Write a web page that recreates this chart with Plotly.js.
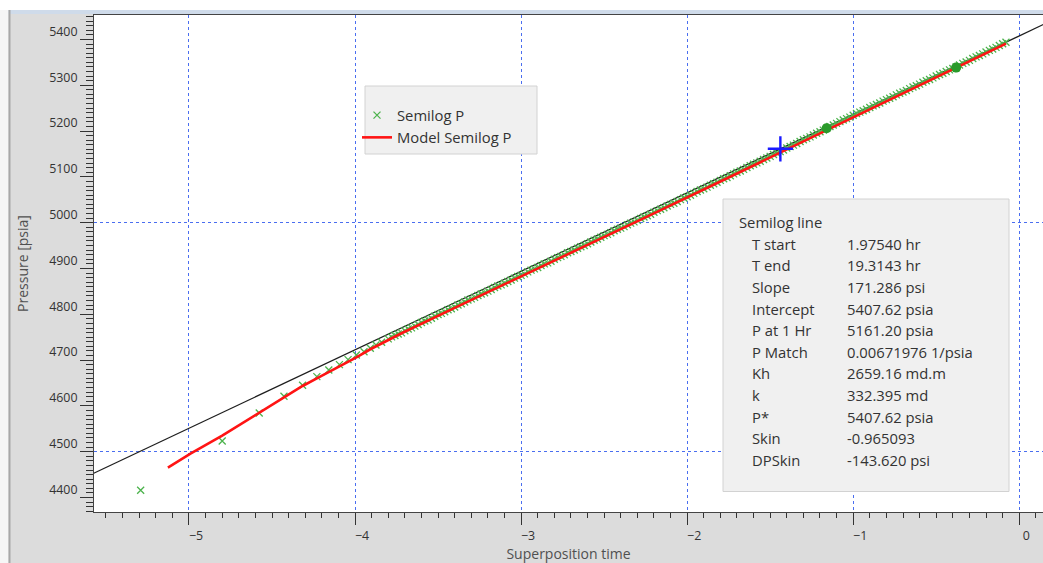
<!DOCTYPE html>
<html>
<head>
<meta charset="utf-8">
<script src="https://cdn.plot.ly/plotly-3.0.1.min.js"></script>
<style>
  html, body { margin: 0; padding: 0; background: #ffffff; }
  #chart { width: 1043px; height: 563px; }
</style>
</head>
<body>
<div id="chart"></div>
<script>
// ---------------- data ----------------
const semilogX = [-5.291, -4.800, -4.577, -4.428, -4.316, -4.230, -4.158, -4.094, -4.042, -3.992, -3.946, -3.908, -3.874, -3.840,
  -3.80, -3.76, -3.72, -3.68, -3.64, -3.60, -3.56, -3.52, -3.48, -3.44, -3.40, -3.36, -3.32, -3.28, -3.24, -3.20,
  -3.16, -3.12, -3.08, -3.04, -3.00, -2.96, -2.92, -2.88, -2.84, -2.80, -2.76, -2.72, -2.68, -2.64, -2.60, -2.56,
  -2.52, -2.48, -2.44, -2.40, -2.36, -2.32, -2.28, -2.24, -2.20, -2.16, -2.12, -2.08, -2.04, -2.00, -1.96, -1.92,
  -1.88, -1.84, -1.80, -1.76, -1.72, -1.68, -1.64, -1.60, -1.56, -1.52, -1.48, -1.44, -1.40, -1.36, -1.32, -1.28,
  -1.24, -1.20, -1.16, -1.12, -1.08, -1.04, -1.00, -0.96, -0.92, -0.88, -0.84, -0.80, -0.76, -0.72, -0.68, -0.64,
  -0.60, -0.56, -0.52, -0.48, -0.44, -0.40, -0.36, -0.32, -0.28, -0.24, -0.20, -0.16, -0.12, -0.08,
  -3.78, -3.74, -3.70, -3.66, -3.62, -3.58, -3.54, -3.50, -3.46, -3.42, -3.38, -3.34, -3.30, -3.26, -3.22, -3.18,
  -3.14, -3.10, -3.06, -3.02, -2.98, -2.94, -2.90, -2.86, -2.82, -2.78, -2.74, -2.70, -2.66, -2.62, -2.58, -2.54,
  -2.50, -2.46, -2.42, -2.38, -2.34, -2.30, -2.26, -2.22, -2.18, -2.14, -2.10, -2.06, -2.02, -1.98, -1.94, -1.90,
  -1.86, -1.82, -1.78, -1.74, -1.70, -1.66, -1.62, -1.58, -1.54, -1.50, -1.46, -1.42, -1.38, -1.34, -1.30, -1.26,
  -1.22, -1.18, -1.14, -1.10, -1.06, -1.02, -0.98, -0.94, -0.90, -0.86, -0.82, -0.78, -0.74, -0.70, -0.66, -0.62,
  -0.58, -0.54, -0.50, -0.46, -0.42, -0.38, -0.34, -0.30, -0.26, -0.22, -0.18, -0.14, -0.10];
const semilogP = [4415.7, 4523.4, 4584.5, 4621.0, 4645.0, 4663.8, 4678.4, 4690.0, 4700.9, 4711.0, 4718.0, 4725.8, 4733.0, 4739.0,
  4746.2, 4753.6, 4759.4, 4767.8, 4774.1, 4782.0, 4787.8, 4795.7, 4802.0, 4809.9, 4815.8, 4823.1, 4831.0, 4836.8, 4844.2, 4850.5,
  4858.4, 4864.2, 4871.6, 4878.9, 4884.8, 4892.6, 4899.0, 4906.3, 4912.2, 4920.0, 4926.4, 4934.2, 4940.1, 4947.4, 4953.8, 4961.6,
  4968.0, 4974.3, 4982.2, 4988.0, 4995.4, 5001.7, 5009.1, 5014.9, 5022.8, 5029.1, 5036.5, 5042.4, 5050.2, 5056.6, 5063.9, 5071.3,
  5077.6, 5085.0, 5092.3, 5098.7, 5106.5, 5112.9, 5120.2, 5127.6, 5133.9, 5141.3, 5148.6, 5155.0, 5162.8, 5169.2, 5177.0, 5183.9,
  5191.2, 5198.6, 5205.9, 5213.3, 5220.6, 5227.0, 5234.3, 5241.2, 5247.5, 5254.9, 5261.2, 5268.6, 5274.9, 5282.3, 5288.6, 5296.0,
  5302.4, 5309.7, 5316.0, 5323.4, 5329.8, 5336.6, 5344.0, 5350.8, 5358.2, 5365.0, 5372.4, 5379.2, 5386.6, 5393.9,
  4750.6, 4757.0, 4763.9, 4770.3, 4777.6, 4785.3, 4791.2, 4799.4, 4805.6, 4812.1, 4820.2, 4826.7, 4833.5, 4841.0, 4846.9, 4854.0,
  4861.8, 4867.5, 4874.8, 4882.3, 4888.2, 4896.3, 4902.2, 4909.9, 4915.6, 4923.7, 4929.8, 4936.9, 4944.2, 4950.1, 4957.9, 4964.3,
  4971.6, 4978.0, 4985.4, 4991.3, 4998.9, 5005.0, 5012.4, 5018.5, 5026.3, 5032.4, 5039.9, 5046.0, 5053.8, 5059.9, 5067.9, 5074.1,
  5081.7, 5088.3, 5095.9, 5102.2, 5110.0, 5116.2, 5124.3, 5130.4, 5137.9, 5144.6, 5152.1, 5158.6, 5166.3, 5172.8, 5180.8, 5187.3,
  5195.2, 5202.0, 5209.9, 5216.7, 5224.1, 5230.4, 5238.1, 5244.1, 5251.5, 5257.8, 5265.2, 5271.5, 5278.9, 5285.2, 5292.6, 5298.9,
  5306.4, 5312.6, 5320.0, 5326.3, 5333.5, 5340.0, 5347.7, 5354.2, 5361.9, 5368.4, 5376.1, 5382.6, 5390.6];

const modelX = [-5.127, -4.991, -4.800, -4.577, -4.428, -4.316, -4.230, -4.094, -3.992, -3.908, -3.720, -3.400, -3.000,
  -2.600, -2.200, -1.800, -1.440, -1.160, -0.800, -0.400, -0.080];
const modelP = [4465.0, 4495.5, 4535.0, 4585.5, 4618.0, 4643.4, 4660.0, 4685.6, 4706.0, 4723.6, 4758.5, 4813.8, 4882.3,
  4951.3, 5020.3, 5089.8, 5153.0, 5201.9, 5264.1, 5334.1, 5390.9];

const lineX = [-5.6, 0.2];
const lineP = [4448.42, 5441.88];

const rangeX = [-1.16, -0.38];
const rangeP = [5205.9, 5338.5];

const crossX = [-1.4386];
const crossP = [5161.2];

const xTickVals = [-5, -4, -3, -2, -1, 0];
const infoTitle = 'Semilog line';
const infoLabels = ['T start', 'T end', 'Slope', 'Intercept', 'P at 1 Hr', 'P Match', 'Kh', 'k', 'P*', 'Skin', 'DPSkin'];
const infoValues = ['1.97540 hr', '19.3143 hr', '171.286 psi', '5407.62 psia', '5161.20 psia', '0.00671976 1/psia',
  '2659.16 md.m', '332.395 md', '5407.62 psia', '-0.965093', '-143.620 psi'];

// ---------------- layout helpers ----------------
const W = 1043, H = 563, ML = 94, MR = 0, MT = 15, MB = 51;
const px2x = p => (p - ML) / (W - ML - MR);
const px2y = p => (H - MB - p) / (H - MT - MB);
const FONT = 'Open Sans, Noto Sans, DejaVu Sans, sans-serif';
const XR = [-5.572, 0.143];
const YR = [4368.3, 5453.3];

const traces = [
  { type: 'scatter', mode: 'lines', x: lineX, y: lineP, name: 'Semilog line', showlegend: false,
    line: { color: '#1e1e1e', width: 1.2 }, hoverinfo: 'skip' },
  { type: 'scatter', mode: 'markers', x: semilogX, y: semilogP, name: 'Semilog P',
    marker: { symbol: 'x-thin', size: 7, color: '#4cb34c', line: { color: '#4cb34c', width: 1.3 } } },
  { type: 'scatter', mode: 'lines', x: modelX, y: modelP, name: 'Model Semilog P',
    line: { color: '#ff1414', width: 2.6 } },
  { type: 'scatter', mode: 'markers', x: rangeX, y: rangeP, name: 'Range', showlegend: false,
    marker: { symbol: 'circle', size: 10, color: '#2a9a2a' } },
  { type: 'scatter', mode: 'markers', x: crossX, y: crossP, name: 'P at 1 Hr', showlegend: false, yaxis: 'y2',
    marker: { symbol: 'cross-thin', size: 18, color: '#1a1aff', line: { color: '#1a1aff', width: 2.4 } } }
];

const boxStyle = { fillcolor: '#f0f0f0', line: { color: '#d2d2d2', width: 1 } };
const shapes = [
  { type: 'rect', xref: 'paper', yref: 'paper', layer: 'below', x0: px2x(-20), x1: px2x(1100), y0: px2y(10), y1: px2y(-20),
    fillcolor: '#ffffff', line: { width: 0 } },
  { type: 'rect', xref: 'paper', yref: 'paper', layer: 'below', x0: px2x(-20), x1: px2x(1100), y0: px2y(14), y1: px2y(10),
    fillcolor: '#cfdbea', line: { width: 0 } },
  { type: 'rect', xref: 'paper', yref: 'paper', layer: 'below', x0: px2x(-20), x1: px2x(8.5), y0: px2y(600), y1: px2y(10),
    fillcolor: '#f6f6f6', line: { width: 0 } },
  { type: 'rect', xref: 'paper', yref: 'paper', layer: 'below', x0: px2x(8.5), x1: px2x(10.5), y0: px2y(600), y1: px2y(10),
    fillcolor: '#a8a8a8', line: { width: 0 } },
  Object.assign({ type: 'rect', xref: 'paper', yref: 'paper', layer: 'above',
    x0: px2x(365), x1: px2x(537), y0: px2y(154), y1: px2y(86) }, boxStyle),
  Object.assign({ type: 'rect', xref: 'paper', yref: 'paper', layer: 'above',
    x0: px2x(723), x1: px2x(1009), y0: px2y(491.5), y1: px2y(199) }, boxStyle)
];

const infoFont = { family: FONT, size: 14.8, color: '#333333' };
const annotations = [
  { xref: 'paper', yref: 'paper', x: px2x(737), y: px2y(221.7), xanchor: 'left', yanchor: 'middle',
    text: infoTitle, showarrow: false, font: infoFont }
];
infoLabels.forEach((lab, i) => {
  const yy = px2y(243.8 + i * 21.6);
  annotations.push({ xref: 'paper', yref: 'paper', x: px2x(750), y: yy, xanchor: 'left', yanchor: 'middle',
    text: lab, showarrow: false, font: infoFont });
  annotations.push({ xref: 'paper', yref: 'paper', x: px2x(845), y: yy, xanchor: 'left', yanchor: 'middle',
    text: infoValues[i], showarrow: false, font: infoFont });
});

const layout = {
  width: W, height: H,
  margin: { l: ML, r: MR, t: MT, b: MB, pad: 0 },
  paper_bgcolor: '#dcdcdc',
  plot_bgcolor: '#ffffff',
  font: { family: FONT, size: 12, color: '#333333' },
  showlegend: true,
  hovermode: false,
  legend: {
    x: px2x(357), y: px2y(99), xanchor: 'left', yanchor: 'top',
    bgcolor: 'rgba(0,0,0,0)', borderwidth: 0,
    font: { family: FONT, size: 14.8, color: '#333333' },
    itemwidth: 30, tracegroupgap: 0
  },
  xaxis: {
    range: XR, autorange: false,
    tickmode: 'array', tickvals: xTickVals,
    ticks: 'outside', ticklen: 12, tickwidth: 1, tickcolor: '#333333',
    ticklabelshift: 7, ticklabelstandoff: 0,
    tickfont: { family: FONT, size: 12.4, color: '#333333' },
    showline: true, linecolor: '#444444', linewidth: 1, mirror: true,
    showgrid: true, gridcolor: '#4a6ef0', griddash: 'dot', gridwidth: 1,
    zeroline: false,
    minor: { dtick: 0.1, tick0: 0, ticks: 'outside', ticklen: 5, tickwidth: 1, tickcolor: '#333333', showgrid: false },
    title: { text: 'Superposition time', standoff: 7, font: { family: FONT, size: 14, color: '#505050' } }
  },
  yaxis: {
    range: YR, autorange: false,
    dtick: 100, tick0: 0,
    ticks: 'outside', ticklen: 13, tickwidth: 1, tickcolor: '#333333',
    ticklabelshift: -8, ticklabelstandoff: 0,
    tickfont: { family: FONT, size: 12.4, color: '#333333' },
    showline: true, linecolor: '#444444', linewidth: 1,
    showgrid: false, zeroline: false,
    minor: { dtick: 10, tick0: 0, ticks: 'outside', ticklen: 7, tickwidth: 1, tickcolor: '#333333', showgrid: false },
    title: { text: 'Pressure [psia]', standoff: 17, font: { family: FONT, size: 14, color: '#505050' } }
  },
  yaxis2: {
    overlaying: 'y', side: 'left', range: YR, autorange: false,
    dtick: 500, tick0: 0, showticklabels: false, ticks: '',
    showgrid: true, gridcolor: '#4a6ef0', griddash: 'dot', gridwidth: 1,
    zeroline: false, showline: false
  },
  shapes: shapes,
  annotations: annotations
};

Plotly.newPlot('chart', traces, layout, { displayModeBar: false, staticPlot: true });
</script>
</body>
</html>
